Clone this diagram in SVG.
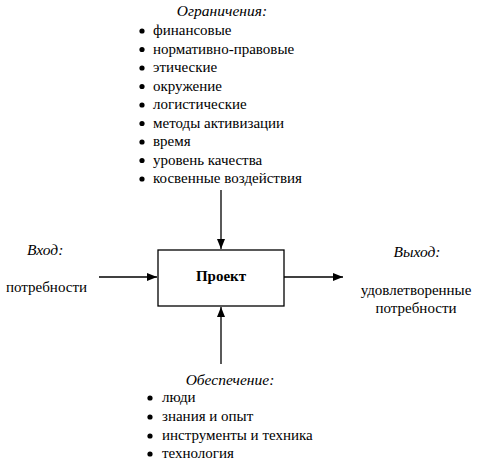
<svg xmlns="http://www.w3.org/2000/svg" width="498" height="469" viewBox="0 0 498 469">
<style>
text{font-family:"Liberation Serif","DejaVu Serif",serif;font-size:15px;fill:#000}
.h{font-style:italic;font-size:15.5px}
.c{text-anchor:middle}
.b{font-weight:bold;font-size:15px}
.ln{stroke:#000;stroke-width:1.3;fill:none}
</style>
<defs>
<marker id="ah" viewBox="0 0 10 8" refX="10" refY="4" markerWidth="10" markerHeight="8" markerUnits="userSpaceOnUse" orient="auto">
<path d="M0,0 L10,4 L0,8 Z" fill="#000"/>
</marker>
</defs>
<rect width="498" height="469" fill="#fff"/>
<g id="connectors">
<line class="ln" x1="221" y1="190" x2="221" y2="249" marker-end="url(#ah)"/>
<line class="ln" x1="221" y1="364" x2="221" y2="307" marker-end="url(#ah)"/>
<line class="ln" x1="99" y1="277" x2="157" y2="277" marker-end="url(#ah)"/>
<line class="ln" x1="284" y1="277" x2="343" y2="277" marker-end="url(#ah)"/>
</g>
<g id="project">
<rect x="158" y="250" width="126" height="56" fill="#fff" stroke="#000" stroke-width="1.3"/>
<text class="b c" x="221" y="281">Проект</text>
</g>
<g id="constraints">
<text class="h c" x="222" y="16">Ограничения:</text>
<g fill="#000">
<circle cx="142" cy="31" r="2.6"/><circle cx="142" cy="49.5" r="2.6"/><circle cx="142" cy="68" r="2.6"/>
<circle cx="142" cy="86.5" r="2.6"/><circle cx="142" cy="105" r="2.6"/><circle cx="142" cy="123.5" r="2.6"/>
<circle cx="142" cy="142" r="2.6"/><circle cx="142" cy="160.5" r="2.6"/><circle cx="142" cy="179" r="2.6"/>
</g>
<text x="153" y="35">финансовые</text>
<text x="153" y="53.5">нормативно-правовые</text>
<text x="153" y="72">этические</text>
<text x="153" y="90.5">окружение</text>
<text x="153" y="109">логистические</text>
<text x="153" y="127.5">методы активизации</text>
<text x="153" y="146">время</text>
<text x="153" y="164.5">уровень качества</text>
<text x="153" y="183">косвенные воздействия</text>
</g>
<g id="input">
<text class="h" x="27" y="255">Вход:</text>
<text x="6" y="292">потребности</text>
</g>
<g id="output">
<text class="h c" x="417" y="257">Выход:</text>
<text class="c" x="416" y="295">удовлетворенные</text>
<text class="c" x="416" y="313">потребности</text>
</g>
<g id="resources">
<text class="h c" x="230" y="385">Обеспечение:</text>
<g fill="#000">
<circle cx="150" cy="398" r="2.6"/><circle cx="150" cy="417" r="2.6"/><circle cx="150" cy="436" r="2.6"/><circle cx="150" cy="454" r="2.6"/>
</g>
<text x="162" y="402">люди</text>
<text x="162" y="421">знания и опыт</text>
<text x="162" y="440">инструменты и техника</text>
<text x="162" y="458">технология</text>
</g>
</svg>
